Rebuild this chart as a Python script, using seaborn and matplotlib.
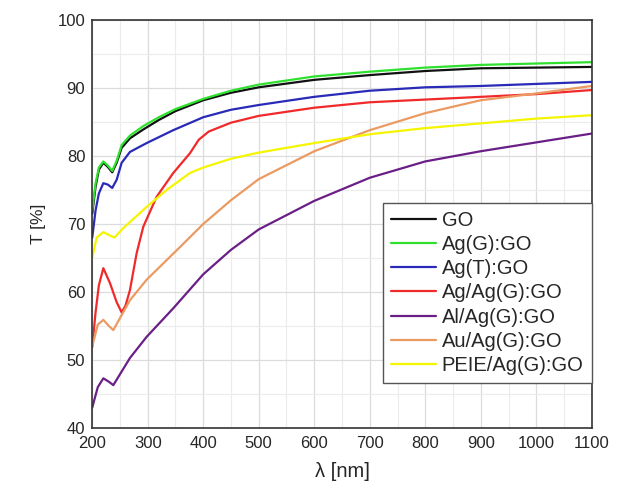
import pandas as pd
import seaborn as sns
import matplotlib.pyplot as plt
from matplotlib.ticker import MultipleLocator

# transmittance spectra (wavelength nm, T %)
wl_go   = [200, 206, 212, 220, 228, 236, 244, 253, 268, 292, 320, 350, 400, 450, 500, 600, 700, 800, 900, 1000, 1100]
t_go    = [71.5, 75.5, 78.0, 79.0, 78.4, 77.6, 79.0, 81.2, 82.6, 83.9, 85.3, 86.6, 88.2, 89.3, 90.1, 91.2, 91.9, 92.5, 92.9, 93.0, 93.1]

wl_agg  = [200, 206, 212, 220, 228, 236, 244, 253, 268, 292, 320, 350, 400, 450, 500, 600, 700, 800, 900, 1000, 1100]
t_agg   = [72.0, 76.0, 78.3, 79.2, 78.6, 77.8, 79.3, 81.6, 83.0, 84.4, 85.7, 86.9, 88.4, 89.6, 90.5, 91.7, 92.4, 93.0, 93.4, 93.6, 93.8]

wl_agt  = [200, 206, 212, 220, 228, 236, 244, 253, 268, 298, 346, 400, 450, 500, 600, 700, 800, 900, 1000, 1100]
t_agt   = [68.0, 72.0, 74.5, 76.0, 75.8, 75.3, 76.5, 79.0, 80.6, 81.9, 83.8, 85.7, 86.8, 87.5, 88.7, 89.6, 90.1, 90.3, 90.6, 90.9]

wl_agag = [200, 206, 212, 220, 232, 244, 253, 260, 268, 280, 292, 316, 346, 376, 392, 410, 450, 500, 600, 700, 800, 900, 1000, 1100]
t_agag  = [51.9, 57.0, 61.0, 63.5, 61.3, 58.5, 57.0, 58.0, 60.3, 65.7, 69.6, 74.0, 77.5, 80.4, 82.4, 83.6, 84.9, 85.9, 87.1, 87.9, 88.3, 88.7, 89.1, 89.7]

wl_alag = [200, 210, 220, 230, 238, 253, 268, 298, 346, 400, 450, 500, 600, 700, 800, 900, 1000, 1100]
t_alag  = [43.0, 46.0, 47.3, 46.8, 46.3, 48.3, 50.3, 53.4, 57.6, 62.6, 66.2, 69.2, 73.4, 76.8, 79.2, 80.7, 82.0, 83.3]

wl_auag = [200, 210, 220, 230, 238, 253, 268, 298, 358, 400, 450, 500, 600, 700, 800, 900, 1000, 1100]
t_auag  = [52.0, 55.2, 55.9, 55.0, 54.4, 56.6, 58.8, 61.8, 66.6, 70.0, 73.5, 76.6, 80.7, 83.8, 86.3, 88.2, 89.2, 90.3]

wl_peie = [200, 208, 220, 232, 240, 256, 298, 334, 376, 400, 450, 500, 600, 700, 800, 900, 1000, 1100]
t_peie  = [65.0, 68.0, 68.8, 68.3, 68.0, 69.4, 72.5, 75.0, 77.5, 78.3, 79.6, 80.5, 81.9, 83.2, 84.1, 84.8, 85.5, 86.0]

labels = ["GO", "Ag(G):GO", "Ag(T):GO", "Ag/Ag(G):GO", "Al/Ag(G):GO", "Au/Ag(G):GO", "PEIE/Ag(G):GO"]
colors = ["#111111", "#2fe02f", "#2a2ab8", "#f02a2a", "#6a1f86", "#eb9a62", "#f5f500"]
series = [(wl_go, t_go), (wl_agg, t_agg), (wl_agt, t_agt), (wl_agag, t_agag),
          (wl_alag, t_alag), (wl_auag, t_auag), (wl_peie, t_peie)]

long = pd.concat([pd.DataFrame({"wl": w, "T": t, "sample": name})
                  for name, (w, t) in zip(labels, series)], ignore_index=True)

sns.set_style("whitegrid")
plt.rcParams['font.family'] = ['Liberation Sans', 'DejaVu Sans']

f = plt.figure(figsize=(6.19, 4.88), dpi=100)
ax = f.add_axes([0.149, 0.123, 0.807, 0.836])

sns.lineplot(data=long, x="wl", y="T", hue="sample", hue_order=labels,
             palette=colors, linewidth=1.6, sort=False, ax=ax)

ax.set_xlim(200, 1100)
ax.set_ylim(40, 100)
ax.xaxis.set_major_locator(MultipleLocator(100))
ax.xaxis.set_minor_locator(MultipleLocator(50))
ax.yaxis.set_major_locator(MultipleLocator(10))
ax.yaxis.set_minor_locator(MultipleLocator(5))
ax.grid(which="major", color="#dcdcdc", linewidth=0.9)
ax.grid(which="minor", color="#ececec", linewidth=0.8)
ax.tick_params(which="both", direction="in", labelsize=12, color="#333333")
ax.tick_params(axis="x", pad=6)
ax.tick_params(axis="y", pad=5)
ax.tick_params(which="major", length=4)
ax.tick_params(which="minor", length=2.5)
for s in ax.spines.values():
    s.set_color("#333333")
    s.set_linewidth(1.2)

ax.set_xlabel("λ [nm]", fontsize=14.5, labelpad=8)
ax.set_ylabel("T [%]", fontsize=12.5, labelpad=8)

leg = ax.legend(loc="lower right", bbox_to_anchor=(1.0, 0.11), fontsize=14.5,
                frameon=True, fancybox=False, handlelength=2.2,
                labelspacing=0.26, borderpad=0.4, handletextpad=0.3,
                borderaxespad=0.0)
leg.get_frame().set_edgecolor("#555555")
leg.get_frame().set_linewidth(1.0)
leg.get_frame().set_alpha(1.0)

f.savefig("out.png", dpi=100)
